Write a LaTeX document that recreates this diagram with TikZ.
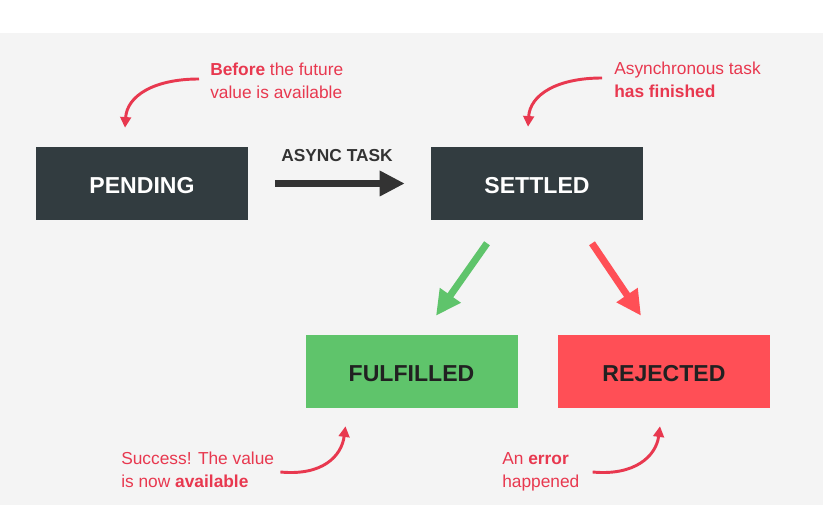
\documentclass[tikz,border=0pt]{standalone}
\usepackage{fontspec}
\setmainfont{Liberation Sans}
\usetikzlibrary{arrows.meta,calc}

\definecolor{boxdark}{HTML}{323C40}
\definecolor{okgreen}{HTML}{5FC46B}
\definecolor{errred}{HTML}{FF4F56}
\definecolor{notered}{HTML}{E8384F}
\definecolor{arrowgray}{HTML}{333333}
\definecolor{bggray}{HTML}{F4F4F4}

\tikzset{
	statebox/.style={minimum width=159pt, minimum height=54.75pt, inner sep=0pt, text height=15.5pt, text depth=0pt, font=\fontsize{17.3}{20}\selectfont\bfseries},
	darkbox/.style={statebox, fill=boxdark, text=white},
	okbox/.style={statebox, fill=okgreen, text=black!87},
	errbox/.style={statebox, fill=errred, text=black!87},
	notetext/.style={inner sep=0pt, anchor=west, align=left, text=notered, font=\fontsize{13}{17}\selectfont},
	notearrow/.style={line width=2.2pt, draw=notered, -{Triangle[length=8pt, width=8pt]}},
	bigarrow/.style={line width=5.25pt, -{Triangle[length=18.75pt, width=18pt]}},
}

\begin{document}
\begin{tikzpicture}[x=0.75pt, y=-0.75pt]
			%%%%% BACKGROUND %%%%%
			\useasboundingbox (0, 0) rectangle (823, 505);
			\fill[white] (0, 0) rectangle (823, 33);
			\fill[bggray] (0, 33) rectangle (823, 505);
			
			%%%%% STATES %%%%%
			\node[darkbox] (pending) at (142, 183.5) {PENDING};
			\node[darkbox] (settled) at (537, 183.5) {SETTLED};
			\node[okbox] (fulfilled) at (411.5, 371.5) {FULFILLED};
			\node[errbox] (rejected) at (664, 371.5) {REJECTED};
			
			\node[inner sep=0pt, text=arrowgray, font=\fontsize{13}{15}\selectfont\bfseries] (asynctask) at (337, 156) {ASYNC TASK};
			
			%%%%% TRANSITIONS %%%%%
			\draw[bigarrow, draw=arrowgray, shorten <=20.25pt, shorten >=19.5pt] (pending.east) -- (settled.west);
			\draw[bigarrow, draw=okgreen] ($(settled.south)+(-50, 23)$) -- ($(fulfilled.north)+(24.5, -19)$);
			\draw[bigarrow, draw=errred] ($(settled.south)+(55, 23)$) -- ($(rejected.north)+(-23, -19)$);
			
			%%%%% NOTES %%%%%
			\node[notetext] (before) at (210, 81) {{\bfseries Before} the future\\value is available};
			\node[notetext] (finished) at (614, 79.5) {Asynchronous task\\{\bfseries has finished}};
			\node[notetext] (success) at (121, 469.5) {Success! The value\\is now {\bfseries available}};
			\node[notetext] (error) at (502, 472) {An {\bfseries error}\\happened};
			
			\draw[notearrow] ($(before.west)+(-11, -2)$) .. controls +(-45, 0) and +(2, -32) .. ($(pending.north)+(-17, -19)$);
			\draw[notearrow] ($(finished.west)+(-12, -1.5)$) .. controls +(-45, 0) and +(2, -32) .. ($(settled.north)+(-9, -20)$);
			\draw[notearrow] ($(success.east)+(6, 2.5)$) .. controls +(42, 4) and +(-4, 30) .. ($(fulfilled.south)+(-66, 18)$);
			\draw[notearrow] ($(error.east)+(13, 0)$) .. controls +(42, 4) and +(-4, 30) .. ($(rejected.south)+(-4, 18)$);
		\end{tikzpicture}
\end{document}
